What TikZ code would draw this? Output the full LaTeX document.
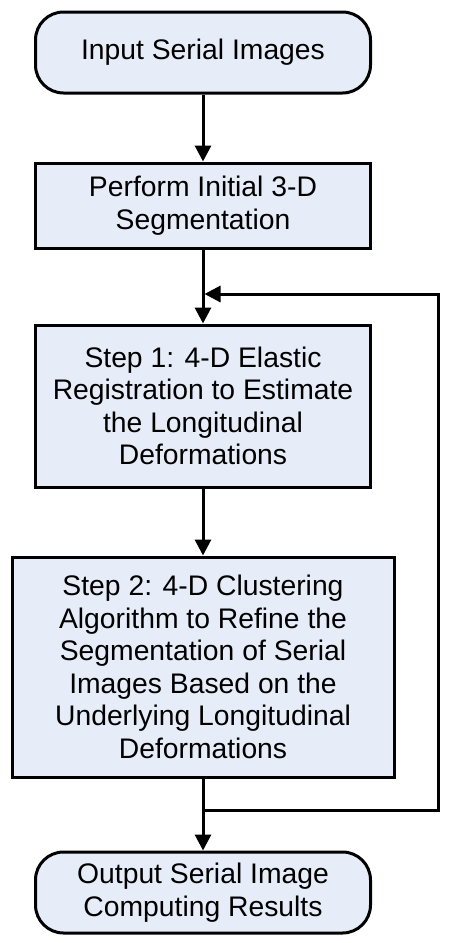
\documentclass[tikz,border=0pt]{standalone}
\usepackage{fontspec}
\setmainfont{Liberation Sans}
\usetikzlibrary{arrows.meta}
\definecolor{boxfill}{RGB}{230,237,248}
\begin{document}
\begin{tikzpicture}[x=1pt,y=-1pt,
  base/.style={draw=black, line width=3pt, fill=boxfill, align=center, inner sep=0pt,
    font={\fontsize{28.3}{32.5}\selectfont}},
  term/.style={base, rounded corners=28pt, minimum width=335pt, minimum height=81pt},
  proc/.style={base, minimum width=335pt},
  conn/.style={line width=3pt, -{Triangle[width=16pt,length=16pt]}},
  line/.style={line width=3pt}]
\useasboundingbox (0,0) rectangle (451,943);
\node[term] (in) at (203,52.5) {Input Serial Images};
\node[proc, minimum height=85pt] (b2) at (203,205.5) {Perform Initial 3-D\\Segmentation};
\node[proc, minimum height=162pt] (b3) at (203,406) {Step 1: 4-D Elastic\\Registration to Estimate\\the Longitudinal\\Deformations};
\node[base, minimum width=382pt, minimum height=220pt] (b4) at (203,667) {Step 2: 4-D Clustering\\Algorithm to Refine the\\Segmentation of Serial\\Images Based on the\\Underlying Longitudinal\\Deformations};
\node[term] (out) at (203,892.5) {Output Serial Image\\Computing Results};
\coordinate (j1) at (204.5,294);
\coordinate (j2) at (203,810);
\coordinate (r2) at (438,810);
\draw[conn] (in) -- (b2);
\draw[conn] (b2) -- (b3);
\draw[conn] (b3) -- (b4);
\draw[conn] (b4) -- (out);
\draw[conn] (j2) -- (r2) |- (j1);
\end{tikzpicture}
\end{document}
